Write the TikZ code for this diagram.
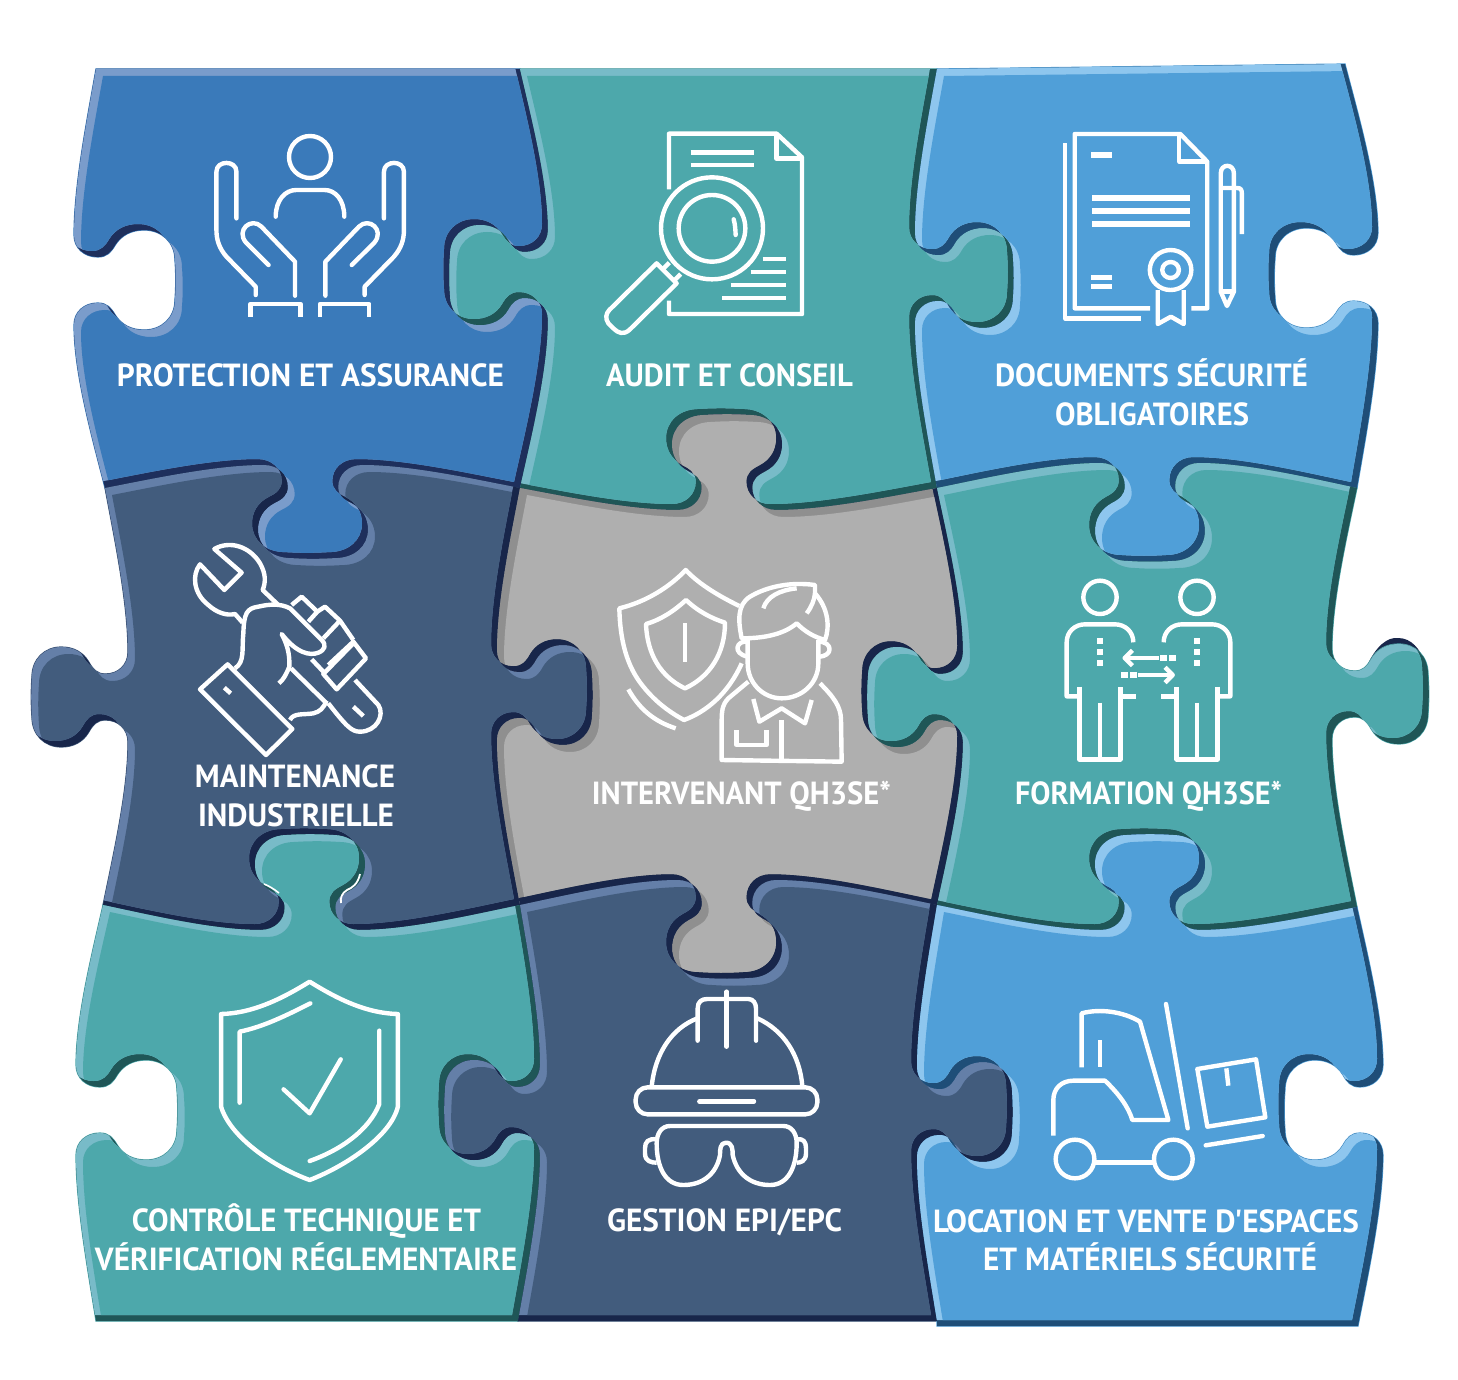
\documentclass[tikz,border=0pt]{standalone}
\usepackage{graphicx}
\usepackage{fontspec}
\newfontfamily\labfont{PT Sans}
\definecolor{pB}{HTML}{3A7ABA}\definecolor{pL}{HTML}{7A9CCB}\definecolor{pD}{HTML}{1E2F5C}
\definecolor{tB}{HTML}{4DA8AB}\definecolor{tL}{HTML}{78BBC8}\definecolor{tD}{HTML}{1F5657}
\definecolor{sB}{HTML}{509FD8}\definecolor{sL}{HTML}{8EC6EE}\definecolor{sD}{HTML}{1F4E78}
\definecolor{nB}{HTML}{425C7D}\definecolor{nL}{HTML}{647FA8}\definecolor{nD}{HTML}{18264A}
\definecolor{gB}{HTML}{AFAFAF}\definecolor{gL}{HTML}{8F8F8F}
% seam curves: corner to tab, tab to corner
\newcommand\VtoT[4]{.. controls ({#1+.4*(#3-#1)},{#2+.3*(#4-#2)}) and (#3,{#4-.3*(#4-#2)}) .. (#3,#4)}
\newcommand\VfromT[4]{.. controls (#1,{#2+.3*(#4-#2)}) and ({#3-.4*(#3-#1)},{#4-.3*(#4-#2)}) .. (#3,#4)}
\newcommand\HtoT[4]{.. controls ({#1+.3*(#3-#1)},{#2+.4*(#4-#2)}) and ({#3-.3*(#3-#1)},#4) .. (#3,#4)}
\newcommand\HfromT[4]{.. controls ({#1+.3*(#3-#1)},#2) and ({#3-.3*(#3-#1)},{#4-.4*(#4-#2)}) .. (#3,#4)}
% tab on a vertical seam: base x, centre y, depth scale, run scale
\newcommand\tabX[4]{.. controls ({#1+#3*0},{#2+#4*-32}) and ({#1+#3*10},{#2+#4*-23}) .. ({#1+#3*23},{#2+#4*-23})
 .. controls ({#1+#3*32},{#2+#4*-23}) and ({#1+#3*36},{#2+#4*-28}) .. ({#1+#3*40},{#2+#4*-35})
 .. controls ({#1+#3*46},{#2+#4*-45}) and ({#1+#3*56},{#2+#4*-50}) .. ({#1+#3*68},{#2+#4*-50})
 .. controls ({#1+#3*85},{#2+#4*-50}) and ({#1+#3*98},{#2+#4*-38}) .. ({#1+#3*98},{#2+#4*-20})
 .. controls ({#1+#3*99},{#2+#4*-7}) and ({#1+#3*99},{#2+#4*7}) .. ({#1+#3*98},{#2+#4*20})
 .. controls ({#1+#3*98},{#2+#4*38}) and ({#1+#3*85},{#2+#4*50}) .. ({#1+#3*68},{#2+#4*50})
 .. controls ({#1+#3*56},{#2+#4*50}) and ({#1+#3*46},{#2+#4*45}) .. ({#1+#3*40},{#2+#4*35})
 .. controls ({#1+#3*36},{#2+#4*28}) and ({#1+#3*32},{#2+#4*23}) .. ({#1+#3*23},{#2+#4*23})
 .. controls ({#1+#3*10},{#2+#4*23}) and ({#1+#3*0},{#2+#4*32}) .. ({#1+#3*0},{#2+#4*45})}
% tab on a horizontal seam: centre x, base y, depth scale, run scale
\newcommand\tabY[4]{.. controls ({#1+#4*-32},{#2+#3*0}) and ({#1+#4*-23},{#2+#3*10}) .. ({#1+#4*-23},{#2+#3*23})
 .. controls ({#1+#4*-23},{#2+#3*32}) and ({#1+#4*-28},{#2+#3*36}) .. ({#1+#4*-35},{#2+#3*40})
 .. controls ({#1+#4*-45},{#2+#3*46}) and ({#1+#4*-50},{#2+#3*56}) .. ({#1+#4*-50},{#2+#3*68})
 .. controls ({#1+#4*-50},{#2+#3*85}) and ({#1+#4*-38},{#2+#3*98}) .. ({#1+#4*-20},{#2+#3*98})
 .. controls ({#1+#4*-7},{#2+#3*99}) and ({#1+#4*7},{#2+#3*99}) .. ({#1+#4*20},{#2+#3*98})
 .. controls ({#1+#4*38},{#2+#3*98}) and ({#1+#4*50},{#2+#3*85}) .. ({#1+#4*50},{#2+#3*68})
 .. controls ({#1+#4*50},{#2+#3*56}) and ({#1+#4*45},{#2+#3*46}) .. ({#1+#4*35},{#2+#3*40})
 .. controls ({#1+#4*28},{#2+#3*36}) and ({#1+#4*23},{#2+#3*32}) .. ({#1+#4*23},{#2+#3*23})
 .. controls ({#1+#4*23},{#2+#3*10}) and ({#1+#4*32},{#2+#3*0}) .. ({#1+#4*45},{#2+#3*0})}
% the nine pieces
\def\pieceP{(96,69) -- (520,69) \VtoT{520}{69}{548}{230} \tabX{548}{275}{-1}{1} \VfromT{548}{320}{520}{488}
 \HtoT{520}{488}{362.5}{465} \tabY{313}{465}{.95}{-1.1} \HfromT{263.5}{465}{105}{488}
 \VtoT{105}{488}{74}{325} \tabX{74}{280}{1.03}{-1} \VfromT{74}{235}{96}{69} -- cycle}
\def\pieceA{(520,69) -- (937,69) \VtoT{937}{69}{915}{233} \tabX{915}{278}{1}{1} \VfromT{915}{323}{937}{488}
 \HtoT{937}{488}{776.5}{510} \tabY{727}{510}{-.97}{-1.1} \HfromT{677.5}{510}{520}{488}
 \VtoT{520}{488}{548}{320} \tabX{548}{275}{-1}{-1} \VfromT{548}{230}{520}{69} -- cycle}
\def\pieceD{(937,69) -- (1345,64) \VtoT{1345}{64}{1378}{233} \tabX{1378}{278}{-1.05}{1} \VfromT{1378}{323}{1357}{488}
 \HtoT{1357}{488}{1199.5}{463} \tabY{1150}{463}{1}{-1.1} \HfromT{1100.5}{463}{937}{488}
 \VtoT{937}{488}{915}{323} \tabX{915}{278}{1}{-1} \VfromT{915}{233}{937}{69} -- cycle}
\def\pieceM{(105,488) \HtoT{105}{488}{263.5}{465} \tabY{313}{465}{.95}{1.1} \HfromT{362.5}{465}{520}{488}
 \VtoT{520}{488}{497}{650} \tabX{497}{695}{.97}{1} \VfromT{497}{740}{520}{905}
 \HtoT{520}{905}{359.5}{930} \tabY{310}{930}{-.97}{-1.1} \HfromT{260.5}{930}{103}{905}
 \VtoT{103}{905}{128}{742} \tabX{128}{697}{-.98}{-1} \VfromT{128}{652}{105}{488} -- cycle}
\def\pieceI{(520,488) \HtoT{520}{488}{677.5}{510} \tabY{727}{510}{-.97}{1.1} \HfromT{776.5}{510}{937}{488}
 \VtoT{937}{488}{963}{652} \tabX{963}{697}{-.97}{1} \VfromT{963}{742}{937}{905}
 \HtoT{937}{905}{776.5}{880} \tabY{727}{880}{1}{-1.1} \HfromT{677.5}{880}{520}{905}
 \VtoT{520}{905}{497}{740} \tabX{497}{695}{.97}{-1} \VfromT{497}{650}{520}{488} -- cycle}
\def\pieceF{(937,488) \HtoT{937}{488}{1100.5}{463} \tabY{1150}{463}{1}{1.1} \HfromT{1199.5}{463}{1357}{488}
 \VtoT{1357}{488}{1332}{649} \tabX{1332}{694}{.98}{1} \VfromT{1332}{739}{1357}{907}
 \HtoT{1357}{907}{1199.5}{930} \tabY{1150}{930}{-.97}{-1.1} \HfromT{1100.5}{930}{937}{905}
 \VtoT{937}{905}{963}{742} \tabX{963}{697}{-.97}{-1} \VfromT{963}{652}{937}{488} -- cycle}
\def\pieceC{(103,905) \HtoT{103}{905}{260.5}{930} \tabY{310}{930}{-.97}{1.1} \HfromT{359.5}{930}{520}{905}
 \VtoT{520}{905}{540}{1065} \tabX{540}{1110}{-.97}{1} \VfromT{540}{1155}{518}{1321}
 -- (96,1321) \VtoT{96}{1321}{76}{1155} \tabX{76}{1110}{1.03}{-1} \VfromT{76}{1065}{103}{905} -- cycle}
\def\pieceG{(520,905) \HtoT{520}{905}{677.5}{880} \tabY{727}{880}{1}{1.1} \HfromT{776.5}{880}{937}{905}
 \VtoT{937}{905}{917}{1067} \tabX{917}{1112}{.97}{1} \VfromT{917}{1157}{937}{1321}
 -- (518,1321) \VtoT{518}{1321}{540}{1155} \tabX{540}{1110}{-.97}{-1} \VfromT{540}{1065}{520}{905} -- cycle}
\def\pieceL{(937,905) \HtoT{937}{905}{1100.5}{930} \tabY{1150}{930}{-.97}{1.1} \HfromT{1199.5}{930}{1357}{907}
 \VtoT{1357}{907}{1383}{1065} \tabX{1383}{1110}{-1}{1} \VfromT{1383}{1155}{1358}{1326}
 -- (937,1326) -- (937,1321) \VtoT{937}{1321}{917}{1157} \tabX{917}{1112}{.97}{-1} \VfromT{917}{1067}{937}{905} -- cycle}
% a piece with its two rims: #1 path, #2 dark, #3 light, #4 base
\newcommand\piece[4]{\begin{scope}
 \clip #1;
 \fill[#2] (0,0) rectangle (1458,1380);
 \path[clip,shift={(-6,-6)}] #1;
 \fill[#3] (0,0) rectangle (1458,1380);
 \fill[#4,shift={(7,7)}] #1;
\end{scope}}
\tikzset{
 ic/.style={draw=white,line width=2.2pt,line join=round},
 rc/.style={ic,line cap=round},
 lab/.style={text=white,anchor=base,inner sep=0pt,font=\labfont\fontsize{16}{16}\selectfont\bfseries},
 und/.style={line width=.6pt}
}
\newcommand\lab[5]{\node[lab] (#1) at (#2,#3) {\resizebox{#4pt}{\height}{#5}};}
\begin{document}
\begin{tikzpicture}[x=.5pt,y=-.5pt]
\useasboundingbox (0,0) rectangle (1458,1380);
\fill[white] (0,0) rectangle (1458,1380);
% dark crescent above the right tab
\fill[nD] (1366,668) .. controls (1376,645) and (1388,637) .. (1398,638) .. controls (1412,638) and (1420,650) .. (1424,660) -- (1400,668) -- cycle;
\filldraw[fill=pB,draw=pB,und] \pieceP;
\filldraw[fill=tB,draw=tB,und] \pieceA;
\filldraw[fill=sB,draw=sB,und] \pieceD;
\filldraw[fill=nB,draw=nB,und] \pieceM;
\filldraw[fill=gB,draw=gB,und] \pieceI;
\filldraw[fill=tB,draw=tB,und] \pieceF;
\filldraw[fill=tB,draw=tB,und] \pieceC;
\filldraw[fill=nB,draw=nB,und] \pieceG;
\filldraw[fill=sB,draw=sB,und] \pieceL;
\piece{\pieceP}{pD}{pL}{pB}
\piece{\pieceA}{tD}{tL}{tB}
\piece{\pieceD}{sD}{sL}{sB}
\piece{\pieceM}{nD}{nL}{nB}
\piece{\pieceI}{nD}{gL}{gB}
\piece{\pieceF}{tD}{tL}{tB}
\piece{\pieceC}{tD}{tL}{tB}
\piece{\pieceG}{nD}{nL}{nB}
\piece{\pieceL}{sD}{sL}{sB}
% white slivers at the neck of the lower-left tab
\draw[white,line width=.8pt] (264,884) .. controls (269,886) and (274,889) .. (279,893);
\draw[white,line width=.9pt] (360,874) .. controls (358,884) and (352,888) .. (347,890) .. controls (342,893) and (340,898) .. (341,903);
% labels
\lab{l1}{310.5}{387}{193.5}{PROTECTION ET ASSURANCE}
\lab{l2}{729.5}{387}{123.5}{AUDIT ET CONSEIL}
\lab{l3a}{1151.5}{387}{156.5}{DOCUMENTS SÉCURITÉ}
\lab{l3b}{1152}{426}{97}{OBLIGATOIRES}
\lab{l4a}{295}{787}{100}{MAINTENANCE}
\lab{l4b}{296}{826}{98}{INDUSTRIELLE}
\lab{l5}{741.5}{804}{149.5}{INTERVENANT QH3SE*}
\lab{l6}{1148.5}{804}{133.5}{FORMATION QH3SE*}
\lab{l7a}{306.5}{1231}{174.5}{CONTRÔLE TECHNIQUE ET}
\lab{l7b}{306}{1270}{211}{VÉRIFICATION RÉGLEMENTAIRE}
\lab{l8}{724.5}{1231}{117.5}{GESTION EPI/EPC}
\lab{l9a}{1146}{1232}{213}{LOCATION ET VENTE D'ESPACES}
\lab{l9b}{1150}{1270}{167}{ET MATÉRIELS SÉCURITÉ}
% hands icon
\draw[ic] (310,157) circle[radius=21];
\begin{scope}[shift={(30,50)},x=.17857pt,y=-.16667pt]
\draw[rc] (688,500) .. controls (688,450) and (715,420) .. (745,420) -- (825,420) .. controls (855,420) and (880,450) .. (880,500);
\draw[rc] (632,735) -- (632,710) -- (550,620) .. controls (530,595) and (522,570) .. (522,540) -- (522,365) .. controls (522,330) and (578,330) .. (578,365) -- (578,505);
\draw[rc] (668,645) -- (605,578) .. controls (575,540) and (620,500) .. (648,530) -- (742,635) -- (742,737);
\draw[rc] (937,735) -- (937,710) -- (1019,620) .. controls (1039,595) and (1047,570) .. (1047,540) -- (1047,365) .. controls (1047,330) and (991,330) .. (991,365) -- (991,505);
\draw[rc] (901,645) -- (964,578) .. controls (994,540) and (949,500) .. (921,530) -- (827,635) -- (827,737);
\draw[ic] (617,800) -- (617,762) -- (757,762) -- (757,800);
\draw[ic] (812,800) -- (812,762) -- (950,762) -- (950,800);
\end{scope}
% audit icon
\begin{scope}[shift={(590,120)},x=.16667pt,y=-.16667pt]
\draw[ic] (237,208) -- (237,41) -- (560,41) -- (636,112) -- (636,582) -- (237,582) -- (237,542);
\draw[ic] (560,41) -- (560,116) -- (636,116);
\foreach \a/\b/\c in {302/492/97,302/492/135,518/588/417,482/588/456,422/588/495,397/588/534} \draw[ic] (\a,\c) -- (\b,\c);
\draw[ic] (366,325) circle[radius=153];
\draw[ic] (366,325) circle[radius=100];
\draw[rc] (431,298) .. controls (436,315) and (436,330) .. (437,345);
\draw[ic] (200,430) -- (260,490) -- (118,630) .. controls (100,645) and (85,640) .. (70,625) -- (55,610) .. controls (45,595) and (48,580) .. (58,570) -- cycle;
\draw[ic] (238,428) -- (216,450);
\draw[ic] (272,462) -- (250,484);
\end{scope}
% documents icon
\begin{scope}[shift={(900,50)},x=.173pt,y=-.16667pt]
\draw[ic] (477,280) -- (477,805) -- (697,805);
\draw[ic] (723,775) -- (505,775) -- (505,252) -- (810,252) -- (888,335) -- (888,775) -- (842,775);
\draw[ic] (807,252) -- (807,335) -- (888,335);
\foreach \a/\b/\c in {552/612/315,555/838/444,555/838/483,555/838/522,552/612/682,552/612/710} \draw[ic,line width=2.6pt] (\a,\c) -- (\b,\c);
\draw[ic] (782,660) circle[radius=60];
\draw[ic] (782,660) circle[radius=24];
\draw[ic] (745,720) -- (745,822) -- (783,800) -- (820,822) -- (820,720);
\draw[ic] (927,725) -- (927,370) .. controls (927,340) and (965,340) .. (965,370) -- (965,725) -- (945,768) -- cycle;
\draw[ic] (927,725) -- (965,725);
\draw[ic] (927,414) -- (975,414) .. controls (985,414) and (988,420) .. (988,430) -- (988,552);
\end{scope}
% maintenance icon
\begin{scope}[shift={(180,530)},x=.16667pt,y=-.16667pt]
\draw[ic] (188,278) -- (165,252) .. controls (140,258) and (110,248) .. (85,225) .. controls (40,190) and (35,135) .. (60,103) -- (133,180) -- (185,128) -- (103,57) .. controls (150,30) and (210,50) .. (240,100) .. controls (257,130) and (258,155) .. (248,180) -- (295,225);
\draw[ic] (143,403) -- (60,478) -- (258,675) -- (337,597) -- cycle;
\draw[ic] (165,415) .. controls (195,395) and (185,360) .. (190,310) .. controls (192,250) and (200,235) .. (235,230) .. controls (270,222) and (300,220) .. (330,235) -- (425,330) .. controls (440,345) and (435,360) .. (415,368) .. controls (390,378) and (350,370) .. (305,312) .. controls (320,340) and (330,370) .. (328,410) .. controls (320,430) and (310,450) .. (297,460);
\draw[ic] (333,415) -- (440,520);
\draw[ic] (330,570) .. controls (340,548) and (370,555) .. (400,550) .. controls (420,545) and (430,535) .. (440,512);
\draw[ic] (335,225) -- (365,200) -- (412,245) -- (385,275);
\draw[ic] (412,245) -- (435,230) -- (480,272) -- (430,325);
\draw[ic] (480,272) -- (520,330);
\draw[ic] (395,388) -- (430,425);
\draw[ic] (445,405) -- (520,335) -- (558,385) -- (470,478) -- (430,432) -- (520,340);
\draw[ic] (525,450) -- (595,525) .. controls (615,555) and (590,605) .. (540,605) .. controls (515,605) and (500,590) .. (445,520);
\draw[ic] (520,530) -- (550,558);
\draw[ic] (133,473) -- (152,490);
\end{scope}
% intervenant icon
\begin{scope}[shift={(480,400)},x=.16667pt,y=-.16667pt]
\draw[ic] (778,618) .. controls (700,580) and (650,545) .. (617,510) .. controls (570,560) and (500,605) .. (418,625) .. controls (420,720) and (440,800) .. (490,860) .. controls (530,910) and (575,940) .. (612,960) .. controls (680,935) and (745,880) .. (785,790);
\draw[ic] (618,600) .. controls (580,635) and (540,660) .. (498,672) .. controls (500,730) and (520,820) .. (615,865) .. controls (690,830) and (735,760) .. (735,668) .. controls (695,655) and (655,635) .. (618,600) -- cycle;
\draw[ic] (615,670) -- (615,785);
\draw[ic] (445,868) .. controls (480,930) and (525,965) .. (587,985);
\draw[ic] (1005,555) .. controls (930,545) and (860,560) .. (810,590) .. controls (770,615) and (775,665) .. (785,715) .. controls (860,715) and (915,700) .. (950,670) .. controls (975,695) and (1000,710) .. (1035,720) .. controls (1050,680) and (1045,625) .. (1005,580) -- cycle;
\draw[ic] (850,625) .. controls (860,590) and (900,570) .. (950,565);
\draw[ic] (980,640) .. controls (995,620) and (1003,600) .. (1005,580);
\draw[ic] (803,715) -- (803,790) .. controls (803,850) and (850,895) .. (905,895) .. controls (965,895) and (1015,850) .. (1015,790) -- (1015,720);
\draw[ic] (803,725) .. controls (770,720) and (755,760) .. (803,770);
\draw[ic] (1015,725) .. controls (1060,725) and (1060,770) .. (1015,770);
\draw[ic] (805,845) -- (745,895) .. controls (725,915) and (725,940) .. (725,960) -- (725,1080) -- (1085,1085) -- (1083,960) .. controls (1083,920) and (1060,890) .. (1020,850);
\draw[ic] (820,897) -- (838,965) -- (905,925) -- (975,970) -- (995,900);
\draw[ic] (905,960) -- (905,1080);
\draw[ic] (770,990) -- (770,1035) -- (860,1035) -- (860,990);
\end{scope}
% formation icon
\begin{scope}[shift={(1050,570)},x=.16667pt,y=-.16667pt]
\draw[ic] (150,82) circle[radius=50];
\draw[ic] (441,82) circle[radius=50];
\draw[ic] (250,217) .. controls (250,185) and (225,163) .. (195,163) -- (105,163) .. controls (75,163) and (50,185) .. (50,217) -- (50,379) -- (88,379);
\draw[ic] (88,350) -- (88,568) -- (211,568) -- (211,350);
\draw[ic] (211,379) -- (258,379);
\draw[ic] (150,398) -- (150,568);
\draw[ic] (341,217) .. controls (341,185) and (366,163) .. (396,163) -- (486,163) .. controls (516,163) and (541,185) .. (541,217) -- (541,379) -- (503,379);
\draw[ic] (503,350) -- (503,568) -- (380,568) -- (380,350);
\draw[ic] (380,379) -- (333,379);
\draw[ic] (441,398) -- (441,568);
\foreach \p in {150,441} \foreach \q in {213,247,280} \fill[white] (\p-9,\q-9) rectangle (\p+9,\q+9);
\draw[ic] (326,264) -- (228,264);
\draw[ic] (247,241) -- (224,264) -- (247,287);
\draw[ic] (265,315) -- (365,315);
\draw[ic] (345,292) -- (368,315) -- (345,338);
\foreach \a/\c in {330/256,357/256,213/307,240/307} \fill[white] (\a,\c) rectangle (\a+21,\c+16);
\end{scope}
% helmet icon
\begin{scope}[shift={(620,980)},x=.16667pt,y=-.16667pt]
\draw[ic] (95,320) .. controls (105,220) and (155,145) .. (232,115);
\draw[ic] (412,115) .. controls (490,150) and (540,225) .. (547,320);
\draw[rc] (233,182) -- (233,85) .. controls (233,65) and (245,57) .. (262,57) -- (385,57) .. controls (400,57) and (408,70) .. (408,85) -- (408,182);
\draw[rc] (320,35) -- (320,200);
\draw[ic,rounded corners=6pt] (47,322) rectangle (592,403);
\draw[rc] (238,364) -- (402,364);
\draw[ic] (318,488) .. controls (300,488) and (300,510) .. (300,525) .. controls (290,580) and (250,615) .. (190,615) .. controls (135,615) and (110,560) .. (110,490) .. controls (110,460) and (125,438) .. (150,438) -- (490,438) .. controls (515,438) and (530,460) .. (530,490) .. controls (530,560) and (505,615) .. (450,615) .. controls (390,615) and (350,580) .. (338,525) .. controls (338,510) and (338,488) .. (318,488) -- cycle;
\draw[ic] (110,478) .. controls (85,475) and (75,485) .. (75,505) -- (75,520) .. controls (75,545) and (95,548) .. (110,548);
\draw[ic] (530,478) .. controls (550,475) and (558,485) .. (558,505) -- (558,520) .. controls (558,545) and (540,548) .. (530,548);
\end{scope}
% shield icon
\begin{scope}[shift={(30,880)},x=.17857pt,y=-.16667pt]
\draw[ic] (783,305) .. controls (700,360) and (620,400) .. (535,402) -- (535,680) .. controls (560,770) and (680,860) .. (783,900) .. controls (880,860) and (1010,770) .. (1030,680) -- (1030,402) .. controls (945,400) and (865,360) .. (783,305) -- cycle;
\draw[rc] (587,668) -- (587,455) .. controls (655,440) and (720,405) .. (785,370);
\draw[rc] (978,452) -- (978,672) .. controls (950,750) and (870,810) .. (783,843);
\draw[rc] (710,628) -- (783,700) -- (870,538);
\end{scope}
% forklift icon
\begin{scope}[shift={(1040,990)},x=.16667pt,y=-.16667pt]
\draw[ic] (105,507) circle[radius=58];
\draw[ic] (400,507) circle[radius=58];
\draw[ic] (165,518) -- (340,518);
\draw[ic] (40,437) -- (40,330) .. controls (40,295) and (65,272) .. (100,272) -- (195,272) .. controls (235,310) and (265,350) .. (277,390) -- (385,390) -- (300,95) .. controls (250,65) and (180,55) .. (125,70) -- (125,232);
\draw[ic] (180,150) -- (180,232);
\draw[rc] (378,42) -- (443,415);
\draw[rc] (497,466) -- (668,438);
\draw[ic] (472,237) -- (648,208) -- (676,382) -- (502,410) -- cycle;
\draw[ic] (559,235) -- (565,287);
\end{scope}
\end{tikzpicture}
\end{document}
